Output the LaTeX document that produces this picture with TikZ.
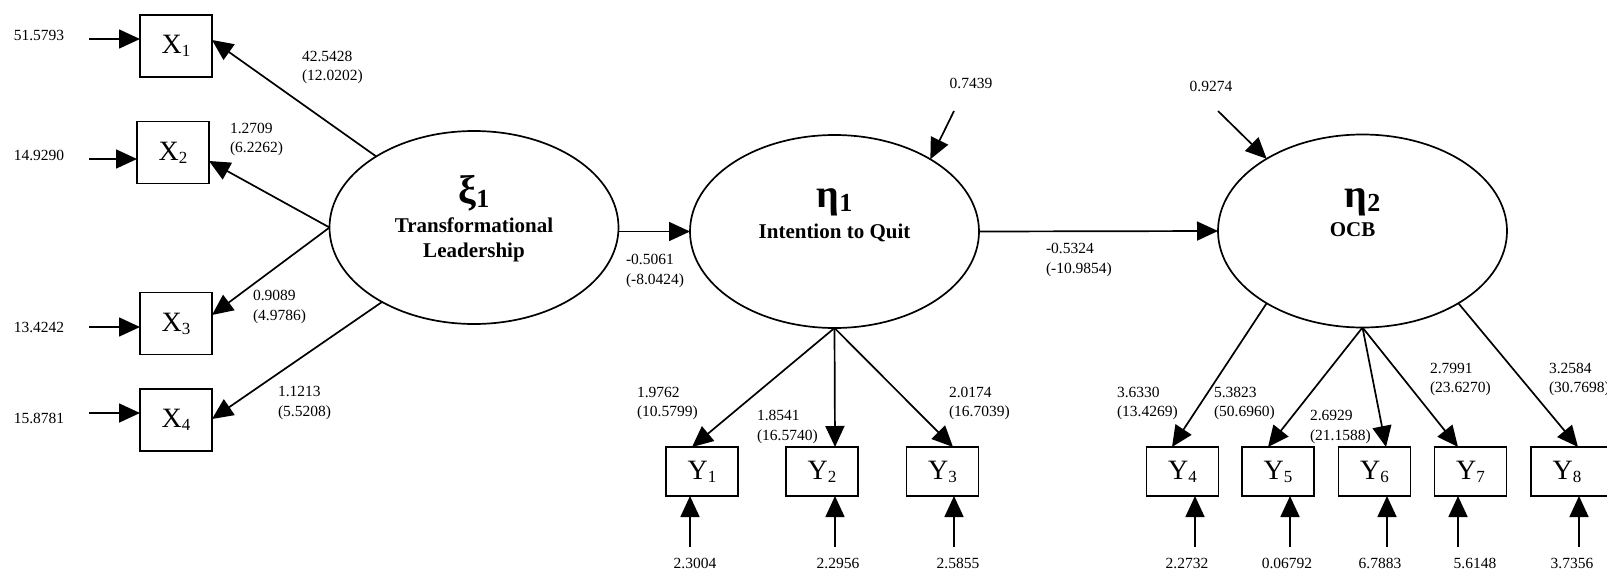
\documentclass[tikz,border=0pt]{standalone}
\usepackage{fontspec}
\setmainfont{Liberation Serif}
\usetikzlibrary{arrows.meta,shapes.geometric,calc}

% small lowered index for the indicator and latent names
\newcommand{\ixsub}[1]{{\fontsize{17}{17}\selectfont\raisebox{-3pt}{#1}}}
\newcommand{\gxsub}[1]{{\fontsize{26}{26}\selectfont\raisebox{-4pt}{#1}}}

\begin{document}
\begin{tikzpicture}[x=1pt,y=-1pt,
  every node/.style={inner sep=0pt, outer sep=0pt},
  arr/.style={line width=1.7pt, -{Triangle[length=21pt,width=19pt]}},
  obs/.style={draw, line width=1.7pt, minimum width=72pt, font=\fontsize{28}{28}\selectfont},
  xbox/.style={obs, minimum height=62pt},
  ybox/.style={obs, minimum height=49pt},
  latent/.style={draw, ellipse, line width=1.7pt, minimum width=289pt, minimum height=193pt},
  num/.style={font=\fontsize{15.5}{19.5}\selectfont},
  coef/.style={num, anchor=west, align=left},
  greek/.style={font=\fontsize{40}{40}\selectfont\bfseries},
  lname/.style={font=\fontsize{21}{25}\selectfont\bfseries, align=center},
]
\fill[white] (0,0) rectangle (1607,571);
\useasboundingbox (0,0) rectangle (1607,571);

% latent variables
\node[latent] (xi)  at (474,227.5) {};
\node[latent] (et1) at (834.5,231.5) {};
\node[latent] (et2) at (1362.5,231) {};

\node[greek] (xiG) at ($(xi.center)+(0,-34)$) {ξ\gxsub{1}};
\node[lname] (xiN) at ($(xi.center)+(0,12)$) {Transformational\\Leadership};
\node[greek] (etG1) at ($(et1.center)+(0,-29)$) {η\gxsub{1}};
\node[lname] (etN1) at ($(et1.center)+(0,1)$) {Intention to Quit};
\node[greek] (etG2) at ($(et2.center)+(0,-29)$) {η\gxsub{2}};
\node[lname] (etN2) at ($(et2.center)+(-10,-1)$) {OCB};

% exogenous indicators
\node[xbox] (X1) at (176,46) {X\ixsub{1}};
\node[xbox] (X2) at (173,152.5) {X\ixsub{2}};
\node[xbox] (X3) at (176,323.5) {X\ixsub{3}};
\node[xbox] (X4) at (176,420) {X\ixsub{4}};

% endogenous indicators
\node[ybox] (Y1) at (702,471.5) {Y\ixsub{1}};
\node[ybox] (Y2) at (822,471.5) {Y\ixsub{2}};
\node[ybox] (Y3) at (942.5,471.5) {Y\ixsub{3}};
\node[ybox] (Y4) at (1182.5,471.5) {Y\ixsub{4}};
\node[ybox] (Y5) at (1278,471.5) {Y\ixsub{5}};
\node[ybox] (Y6) at (1374.5,471.5) {Y\ixsub{6}};
\node[ybox] (Y7) at (1470.5,471.5) {Y\ixsub{7}};
\node[ybox, minimum width=82pt, label={[xshift=-5pt,font=\fontsize{28}{28}\selectfont]center:Y\ixsub{8}}] (Y8) at (1572,471.5) {};

% measurement errors of X
\coordinate (ex1) at (89,39);
\coordinate (ex2) at (89,159);
\coordinate (ex3) at (89,327);
\coordinate (ex4) at (89,413);
\draw[arr] (ex1) -- (ex1 -| X1.west);
\draw[arr] (ex2) -- (ex2 -| X2.west);
\draw[arr] (ex3) -- (ex3 -| X3.west);
\draw[arr] (ex4) -- (ex4 -| X4.west);
\node[num] at (39,35) {51.5793};
\node[num] at (39,155) {14.9290};
\node[num] at (39,327) {13.4242};
\node[num] at (39,418) {15.8781};

% loadings of xi1
\draw[arr] (xi.144) -- ([yshift=6pt]X1.east);
\draw[arr] (xi.west) -- ([yshift=-8.5pt]X2.east);
\draw[arr] (xi.west) -- ([yshift=8.5pt]X3.east);
\draw[arr] (xi.219) -- ([yshift=1pt]X4.east);
\node[coef] at (302,67.5) {42.5428\\(12.0202)};
\node[coef] at (230,139.5) {1.2709\\(6.2262)};
\node[coef] at (253,307) {0.9089\\(4.9786)};
\node[coef] at (278,403) {1.1213\\(5.5208)};

% structural paths
\draw[arr] (xi.east |- et1.west) -- (et1.west);
\draw[arr] (et1.east) -- (et2.west);
\node[coef] at (626,271) {-0.5061\\(-8.0424)};
\node[coef] at (1046,260) {-0.5324\\(-10.9854)};

% disturbances
\coordinate (z1) at (954,111);
\coordinate (z2) at (1218,111);
\draw[arr] (z1) -- (et1.37);
\draw[arr] (z2) -- (et2.143);
\node[num] at (971,83) {0.7439};
\node[num] at (1211,86) {0.9274};

% loadings of eta1
\draw[arr] (et1.south) -- ([xshift=-10pt]Y1.north);
\draw[arr] (et1.south) -- ([xshift=13pt]Y2.north);
\draw[arr] (et1.south) -- ([xshift=10.5pt]Y3.north);
\node[coef] at (637,403.5) {1.9762\\(10.5799)};
\node[coef] at (757,427) {1.8541\\(16.5740)};
\node[coef] at (949,403.5) {2.0174\\(16.7039)};

% loadings of eta2
\draw[arr] (et2.217) -- ([xshift=-10.5pt]Y4.north);
\draw[arr] (et2.south) -- ([xshift=-10pt]Y5.north);
\draw[arr] (et2.south) -- ([xshift=11.5pt]Y6.north);
\draw[arr] (et2.south) -- ([xshift=-12.5pt]Y7.north);
\draw[arr] (et2.323) -- ([xshift=6pt]Y8.north);
\node[coef] at (1117,403.5) {3.6330\\(13.4269)};
\node[coef] at (1214,403.5) {5.3823\\(50.6960)};
\node[coef] at (1310,427) {2.6929\\(21.1588)};
\node[coef] at (1430,379.5) {2.7991\\(23.6270)};
\node[coef] at (1549,379.5) {3.2584\\(30.7698)};

% measurement errors of Y
\foreach \k/\x in {1/690,2/835,3/954,4/1195,5/1290,6/1387,7/1458,8/1579}{
  \coordinate (ey\k) at (\x,547);
  \draw[arr] (ey\k) -- (ey\k |- Y\k.south);
}
\node[num] at (695,563) {2.3004};
\node[num] at (838,563) {2.2956};
\node[num] at (958,563) {2.5855};
\node[num] at (1187,563) {2.2732};
\node[num] at (1287,563) {0.06792};
\node[num] at (1380,563) {6.7883};
\node[num] at (1475,563) {5.6148};
\node[num] at (1572,563) {3.7356};
\end{tikzpicture}
\end{document}
